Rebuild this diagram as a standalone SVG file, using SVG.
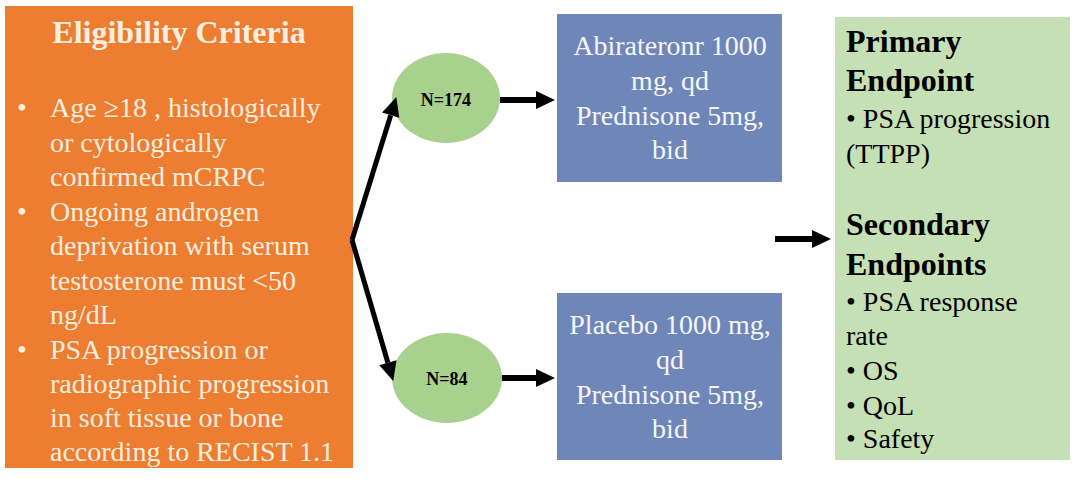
<svg xmlns="http://www.w3.org/2000/svg" width="1080" height="488" viewBox="0 0 1080 488">
<style>
.t{font-family:"Liberation Serif","Times New Roman",serif;font-size:28px}
.b{font-weight:bold}
.h1{font-size:32px}
.h2{font-size:32px}
.n{font-size:18px}
.cream{fill:#FCEFE0}
.white{fill:#F4F6FA}
.dark{fill:#000}
.conn{stroke:#000;fill:none}
</style>
<defs>
<marker id="ah" markerUnits="userSpaceOnUse" markerWidth="20" markerHeight="20" viewBox="0 -10 20 20" refX="0" refY="0" orient="auto" overflow="visible">
<path d="M0,-9 L19,0 L0,9 z" fill="#000"/>
</marker>
</defs>
<rect width="1080" height="488" fill="#fff"/>
<g id="eligibility">
<rect x="5" y="6" width="348" height="462" fill="#ED7D31"/>
<text class="t b h1 cream" x="179" y="43" text-anchor="middle">Eligibility Criteria</text>
<g class="t cream">
<text x="17" y="117">•</text>
<text x="50" y="117">Age ≥18 , histologically</text>
<text x="50" y="152">or cytologically</text>
<text x="50" y="186">confirmed mCRPC</text>
<text x="17" y="221">•</text>
<text x="50" y="221">Ongoing androgen</text>
<text x="50" y="255">deprivation with serum</text>
<text x="50" y="290">testosterone must &lt;50</text>
<text x="50" y="324">ng/dL</text>
<text x="17" y="359">•</text>
<text x="50" y="359">PSA progression or</text>
<text x="50" y="393">radiographic progression</text>
<text x="50" y="427">in soft tissue or bone</text>
<text x="50" y="461">according to RECIST 1.1</text>
</g>
</g>
<g id="n174">
<ellipse cx="446" cy="98" rx="54" ry="45" fill="#A9D18E"/>
<text class="t b n dark" x="446" y="106" text-anchor="middle">N=174</text>
</g>
<g id="n84">
<ellipse cx="447" cy="378" rx="55" ry="45" fill="#A9D18E"/>
<text class="t b n dark" x="447" y="385" text-anchor="middle">N=84</text>
</g>
<g id="abiraterone">
<rect x="557" y="14" width="225" height="168" fill="#6F87B8"/>
<g class="t white" text-anchor="middle">
<text x="670" y="55">Abirateronr 1000</text>
<text x="670" y="90">mg, qd</text>
<text x="670" y="125">Prednisone 5mg,</text>
<text x="670" y="159">bid</text>
</g>
</g>
<g id="placebo">
<rect x="557" y="293" width="225" height="167" fill="#6F87B8"/>
<g class="t white" text-anchor="middle">
<text x="670" y="334">Placebo 1000 mg,</text>
<text x="670" y="369">qd</text>
<text x="670" y="404">Prednisone 5mg,</text>
<text x="670" y="438">bid</text>
</g>
</g>
<g id="endpoints">
<rect x="835" y="17" width="235" height="443" fill="#C5E0B4"/>
<g class="t dark">
<text class="t b h2" x="846" y="52">Primary</text>
<text class="t b h2" x="846" y="91">Endpoint</text>
<text x="846" y="128">• PSA progression</text>
<text x="846" y="163">(TTPP)</text>
<text class="t b h2" x="846" y="235">Secondary</text>
<text class="t b h2" x="846" y="275">Endpoints</text>
<text x="846" y="311">• PSA response</text>
<text x="846" y="345">rate</text>
<text x="846" y="380">• OS</text>
<text x="846" y="415">• QoL</text>
<text x="846" y="448">• Safety</text>
</g>
</g>
<g id="connectors" class="conn">
<line x1="352" y1="240" x2="390.7" y2="115.2" stroke-width="5" marker-end="url(#ah)"/>
<line x1="352" y1="240" x2="387.9" y2="362.7" stroke-width="5" marker-end="url(#ah)"/>
<line x1="500" y1="100" x2="536" y2="100" stroke-width="6" marker-end="url(#ah)"/>
<line x1="502" y1="378" x2="536" y2="378" stroke-width="6" marker-end="url(#ah)"/>
<line x1="775" y1="239" x2="812" y2="239" stroke-width="6" marker-end="url(#ah)"/>
</g>
</svg>
